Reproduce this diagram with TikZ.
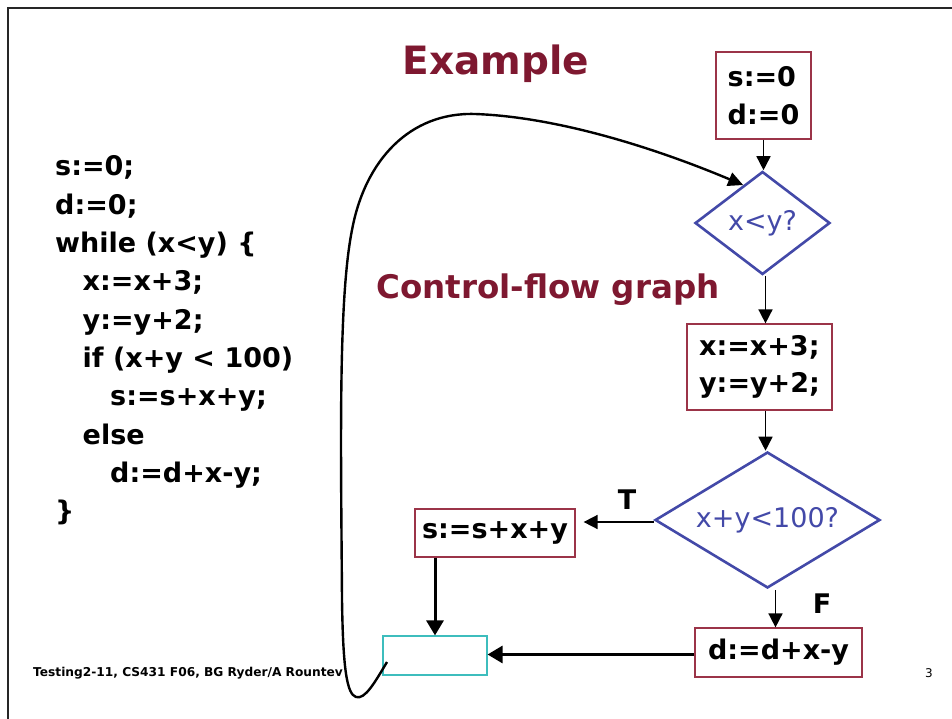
\documentclass[tikz,border=0pt]{standalone}
\usepackage{fontspec}
\setmainfont{DejaVu Sans}
\usetikzlibrary{arrows.meta,positioning,shapes.geometric}
\definecolor{SlideRed}{HTML}{7E1830}
\definecolor{BoxRed}{HTML}{9B3448}
\definecolor{TestBlue}{HTML}{4349A8}
\definecolor{JoinTeal}{HTML}{3DBDBD}
\tikzset{
  every node/.style={text=black},
  frame/.style={draw=black!85, line width=1.3pt},
  heading/.style={text=SlideRed, inner sep=0pt},
  codeline/.style={anchor=base west, inner sep=0pt, font=\fontsize{27}{30}\selectfont\bfseries},
  stmt/.style={draw=BoxRed, line width=1.2pt, fill=white, inner sep=0pt, align=left,
    font=\fontsize{27}{38}\selectfont\bfseries},
  test/.style={diamond, draw=TestBlue, line width=2.6pt, text=TestBlue, inner sep=0pt,
    font=\fontsize{27}{30}\selectfont},
  joinbox/.style={draw=JoinTeal, line width=1.2pt, inner sep=0pt},
  branch/.style={font=\fontsize{27}{30}\selectfont\bfseries, inner sep=0pt},
  flow/.style={-{Triangle[length=14pt,width=14pt]}, line width=1.6pt},
  heavyflow/.style={-{Triangle[length=15pt,width=17pt]}, line width=3pt},
  backedge/.style={-{Triangle[length=15pt,width=14pt]}, line width=2.4pt},
  footer/.style={anchor=west, inner sep=0pt, font=\fontsize{12.2}{14}\selectfont\bfseries},
}

\begin{document}
\begin{tikzpicture}[x=1pt, y=-1pt]
  \useasboundingbox (0,0) rectangle (952,719);
  % slide frame
  \draw[frame] (8,719) -- (8,8) -- (952,8);
  % headings
  \node[heading, font=\fontsize{39}{42}\selectfont\bfseries] (title) at (496,64) {Example};
  \node[heading, font=\fontsize{32.5}{36}\selectfont\bfseries] (subtitle) at (548,290) {Control-flow graph};
  % source program, one line per node
  \foreach \txt/\ind [count=\i] in {s:=0;/0, d:=0;/0, {while (x<y) \{}/0, x:=x+3;/1, y:=y+2;/1,
      {if (x+y < 100)}/1, s:=s+x+y;/2, else/1, d:=d+x-y;/2, \}/0}
    \node[codeline] (code\i) at (55+27.5*\ind, 176+38.3*\i-38.3) {\txt};
  % control-flow graph
  \node[stmt, minimum width=95pt, minimum height=87pt] (init) at (763.5,95.5) {s:=0\\d:=0};
  \node[test, aspect=1.31, minimum width=135pt, minimum height=103pt] (loop) at (762.5,223) {x<y?};
  \node[stmt, minimum width=145pt, minimum height=86pt, font=\fontsize{27}{37}\selectfont\bfseries]
    (body) at (759.5,367) {x:=x+3;\\y:=y+2;};
  \node[test, aspect=1.65, minimum width=225pt, minimum height=136pt] (cond) at (767.5,520) {x+y<100?};
  \node[stmt, minimum width=160pt, minimum height=48pt] (then) at (495,533) {s:=s+x+y};
  \node[stmt, minimum width=167pt, minimum height=49pt] (else) at (778.5,652.5) {d:=d+x-y};
  \node[joinbox, minimum width=104pt, minimum height=39pt] (merge) at (435,655.5) {};
  \node[branch] (tlabel) at (627,500) {T};
  \node[branch] (flabel) at (822,604) {F};
  % edges
  \draw[flow] (init.south) -- (init.south |- loop.north);
  \draw[flow] ([xshift=3pt]loop.south) -- ([xshift=3pt]loop.south |- body.north);
  \draw[flow] ([xshift=6pt]body.south) -- ([xshift=6pt]body.south |- cond.north);
  \draw[flow] ([yshift=-2pt]cond.west) -- ([yshift=-2pt,xshift=8pt]cond.west -| then.east);
  \draw[flow] ([xshift=8pt,yshift=-1pt]cond.south) -- ([xshift=8pt]cond.south |- else.north);
  \draw[heavyflow] (merge.north |- then.south) -- (merge.north);
  \draw[heavyflow] ([yshift=-2pt]else.west) -- ([yshift=-2pt]else.west -| merge.east);
  % back edge to the loop test
  \coordinate (backstart) at (387,662);
  \draw[backedge] (backstart) .. controls (375,682) and (365,700) .. (356,697)
    .. controls (347,694) and (343,670) .. (342,600)
    .. controls (341,450) and (338,300) .. (352,230)
    .. controls (365,160) and (410,112) .. (475,114)
    .. controls (560,117) and (660,150) .. (loop.117);
  % footer
  \node[footer] (credit) at (33,673) {Testing2-11, CS431 F06, BG Ryder/A Rountev};
  \node[font=\fontsize{12}{14}\selectfont, inner sep=0pt] (pageno) at (929,673) {3};
\end{tikzpicture}
\end{document}
